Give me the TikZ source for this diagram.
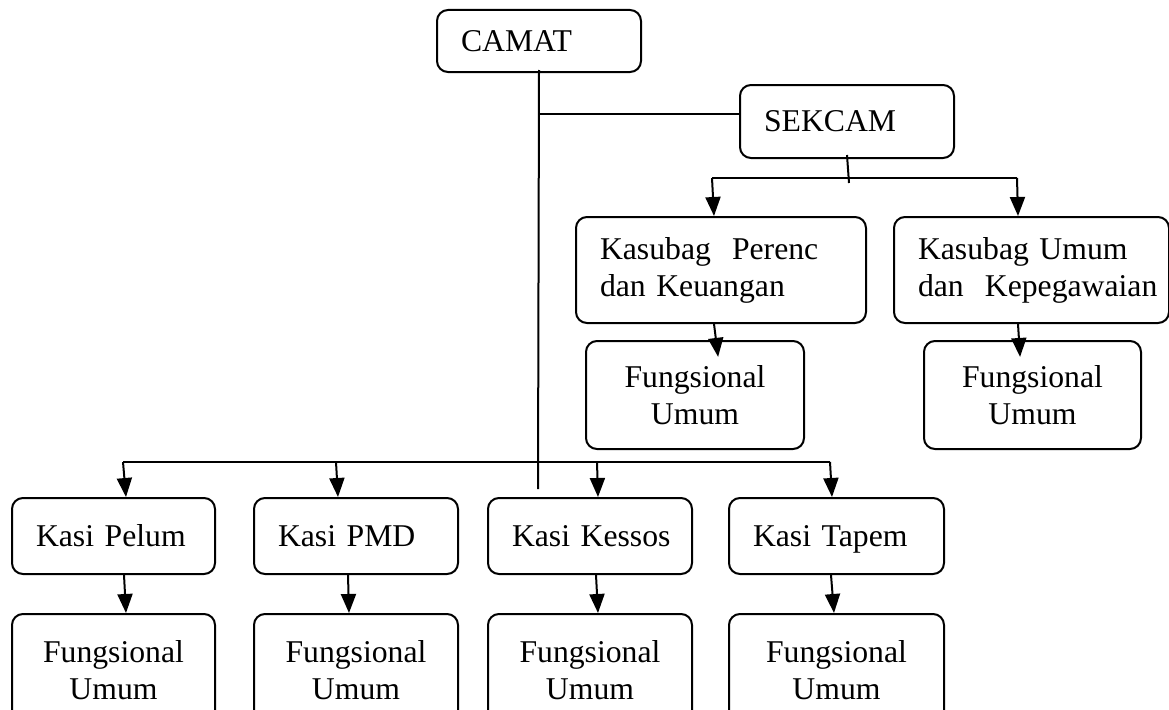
\documentclass[tikz,border=0pt]{standalone}
\usepackage{fontspec}
\setmainfont{Liberation Serif}
\usetikzlibrary{arrows.meta}
\tikzset{>={Triangle[width=15pt,length=19pt]}}

\tikzset{
	unit/.style={draw, rounded corners=11pt, line width=2pt, inner ysep=0pt, anchor=north west, font=\fontsize{31.7}{37}\selectfont},
	head/.style={unit, align=left, inner xsep=24pt},
	staff/.style={unit, align=center, inner xsep=0pt},
	link/.style={line width=2pt}
}

\begin{document}
\begin{tikzpicture}[x=1pt,y=-1pt]
	\clip (0,0) rectangle (1169,709);
	
	% Boxes (placed by their top left corner)
	\node[head, text width=156pt, minimum height=62pt] (camat) at (436,9) {CAMAT}; %top
	\node[head, text width=166pt, minimum height=73pt] (sekcam) at (739,84) {SEKCAM}; %secretary
	\node[head, text width=242pt, minimum height=106pt] (perenc) at (575,216) {\mbox{Kasubag~~Perenc}\\\mbox{dan Keuangan}};
	\node[head, text width=227pt, minimum height=106pt] (umum) at (893,216) {\mbox{Kasubag Umum}\\\mbox{dan~~Kepegawaian}};
	\node[staff, text width=218pt, minimum height=108pt] (fperenc) at (585,340) {Fungsional\\Umum};
	\node[staff, text width=217pt, minimum height=108pt] (fumum) at (923,340) {Fungsional\\Umum};
	
	\node[head, text width=155pt, minimum height=76pt] (pelum) at (11,497) {\mbox{Kasi Pelum}};
	\node[head, text width=156pt, minimum height=76pt] (pmd) at (253,497) {\mbox{Kasi PMD}};
	\node[head, text width=156pt, minimum height=76pt] (kessos) at (487,497) {\mbox{Kasi Kessos}};
	\node[head, text width=167pt, minimum height=76pt, text depth=0pt] (tapem) at (728,497) {\mbox{Kasi Tapem}};
	\node[staff, text width=203pt, minimum height=112pt] (fpelum) at (11,613) {Fungsional\\Umum}; %runs off the bottom
	\node[staff, text width=204pt, minimum height=112pt] (fpmd) at (253,613) {Fungsional\\Umum};
	\node[staff, text width=204pt, minimum height=112pt] (fkessos) at (487,613) {Fungsional\\Umum};
	\node[staff, text width=215pt, minimum height=112pt] (ftapem) at (728,613) {Fungsional\\Umum};
	
	% Line coordinates
	\coordinate (trunk) at (538,489); %end of the camat line
	\coordinate (sekin) at (739,114); %sekcam left side
	\coordinate (sbmid) at (849,183); %sekcam drop
	\coordinate (sb1) at (712,178);
	\coordinate (sb2) at (1017,178);
	\coordinate (k1) at (123,462); %pelum
	\coordinate (k2) at (336,462); %pmd
	\coordinate (k3) at (597,462); %kessos
	\coordinate (k4) at (830,462); %tapem
	
	% Drawing everything
	\draw[link] ([yshift=3pt]camat.south) -- (trunk);
	\draw[link] (sekin) -- (sekin -| trunk);
	\draw[link] ([yshift=4pt]sekcam.south) -- (sbmid);
	\draw[link] (sb1) -- (sb2);
	\draw[->, link] (sb1) -- ([xshift=-7pt]perenc.north);
	\draw[->, link] (sb2) -- ([xshift=-13.5pt]umum.north);
	\draw[->, link, shorten >=-17pt] ([xshift=-7pt]perenc.south) -- ([xshift=21pt]fperenc.north);
	\draw[->, link, shorten >=-17pt] ([xshift=-13.5pt]umum.south) -- ([xshift=-13.5pt]fumum.north);
	
	\draw[link] (k1) -- (k4);
	\draw[->, link] (k1) -- ([xshift=12.5pt]pelum.north);
	\draw[->, link] (k2) -- ([xshift=-18pt]pmd.north);
	\draw[->, link] (k3) -- ([xshift=8pt]kessos.north);
	\draw[->, link] (k4) -- ([xshift=-4.5pt]tapem.north);
	\draw[->, link] ([xshift=10.5pt]pelum.south) -- ([xshift=12.5pt]fpelum.north);
	\draw[->, link] ([xshift=-8pt]pmd.south) -- ([xshift=-7pt]fpmd.north);
	\draw[->, link] ([xshift=6pt]kessos.south) -- ([xshift=8pt]fkessos.north);
	\draw[->, link] ([xshift=-5.5pt]tapem.south) -- ([xshift=-2.5pt]ftapem.north);
	
\end{tikzpicture}
\end{document}
